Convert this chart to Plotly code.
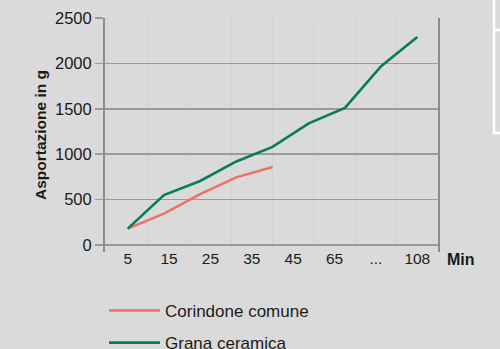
import plotly.graph_objects as go

# data
x_idx = [0, 1, 2, 3, 4, 5, 6, 7, 8]
grana_ceramica = [180, 550, 705, 920, 1080, 1340, 1510, 1970, 2290]
corindone_comune = [180, 345, 560, 745, 860]
tick_labels = ["5", "15", "25", "35", "45", "65", "...", "108"]

BG = "#dadada"
GRID = "#9a9a9a"
AXIS = "#8c8c8c"
RED = "#ef7166"
GREEN = "#077a5f"
FONT = "Liberation Sans, Arial, sans-serif"

n_lab = len(tick_labels)
step = (len(x_idx) - 1) / (n_lab - 1)
tickvals = [i * step for i in range(n_lab)]
minor_vals = [(i + 0.5) * step for i in range(-1, n_lab)]

fig = go.Figure()
fig.add_trace(go.Scatter(
    x=x_idx[:len(corindone_comune)], y=corindone_comune, mode="lines",
    name="Corindone comune", legendgroup="a",
    line=dict(color=RED, width=2.6),
))
fig.add_trace(go.Scatter(
    x=x_idx, y=grana_ceramica, mode="lines",
    name="Grana ceramica", legendgroup="b",
    line=dict(color=GREEN, width=2.6),
))

fig.update_layout(
    width=500, height=349,
    paper_bgcolor=BG, plot_bgcolor=BG,
    font=dict(family=FONT, color="#1a1a1a", size=15),
    margin=dict(l=105, r=62, t=18, b=97, autoexpand=False),
    showlegend=True,
    legend=dict(
        x=(104 - 105) / 333, xanchor="left",
        y=-(293 - 252) / 234, yanchor="top",
        bgcolor="rgba(0,0,0,0)",
        font=dict(size=17),
        itemwidth=51,
        traceorder="grouped", tracegroupgap=7,
    ),
    hovermode=False,
)

fig.update_xaxes(
    range=[-0.55 * step, (n_lab - 1 + 0.5) * step],
    tickmode="array", tickvals=tickvals, ticktext=tick_labels,
    showgrid=False, zeroline=False, showline=False, ticks="",
    tickfont=dict(size=15.5), ticklabelstandoff=-5,
    minor=dict(tickmode="array", tickvals=minor_vals, showgrid=True,
               gridcolor="#d3d3d3", gridwidth=1, ticks=""),
)
fig.update_yaxes(
    range=[-77, 2500],
    tickmode="array", tickvals=[0, 500, 1000, 1500, 2000, 2500],
    showgrid=True, gridcolor=GRID, gridwidth=1.5,
    zeroline=False,
    showline=True, linecolor=AXIS, linewidth=2, mirror=True,
    ticks="outside", ticklen=8, tickcolor=GRID, tickwidth=1.5,
    tickfont=dict(size=16.5),
    title=dict(text="<b>Asportazione in g</b>", font=dict(size=15.5), standoff=5),
)

fig.add_annotation(
    text="<b>Min</b>", xref="paper", yref="paper",
    x=(445 - 105) / 333, xanchor="left", y=-(259 - 252) / 234, yanchor="middle",
    showarrow=False, font=dict(size=16),
)

# cropped white box at the right edge
fig.add_shape(type="path", xref="paper", yref="paper",
              path="M %f,%f L %f,%f L %f,%f" % (
                  (505 - 105) / 333, (252 - 133) / 234,
                  (494 - 105) / 333, (252 - 133) / 234,
                  (494 - 105) / 333, (252 + 5) / 234),
              line=dict(color="white", width=2.5), layer="above")
fig.add_shape(type="line", xref="paper", yref="paper",
              x0=(494 - 105) / 333, x1=(505 - 105) / 333,
              y0=(252 - 30) / 234, y1=(252 - 30) / 234,
              line=dict(color="white", width=2.5))

fig.write_html(
    "out.html",
    config={"displayModeBar": False, "staticPlot": True},
    post_script="document.body.style.margin='0';document.body.style.overflow='hidden';",
)
